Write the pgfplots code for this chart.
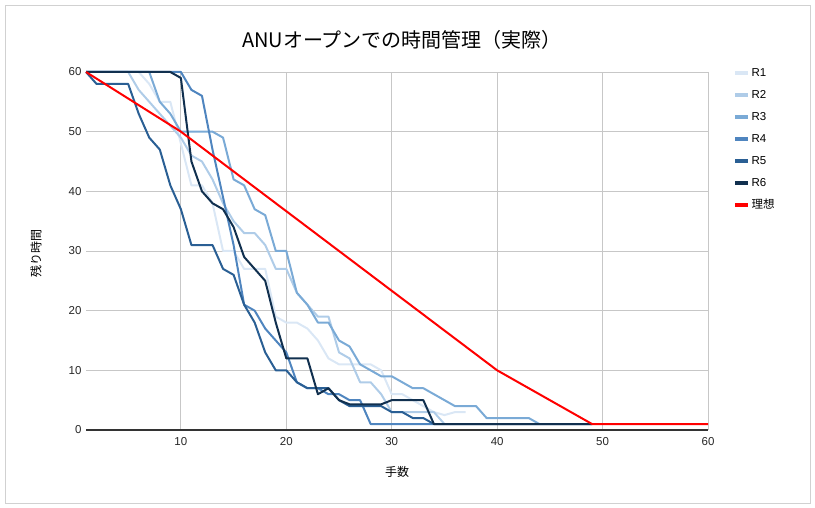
\documentclass[border=0pt]{standalone}
\usepackage{pgfplots}
\pgfplotsset{compat=1.18}
\usepackage{fontspec}
\setmainfont{Liberation Sans}
\newfontfamily\jp{Noto Sans CJK JP}
\definecolor{cR1}{HTML}{DAE7F5}
\definecolor{cR2}{HTML}{AFCCE8}
\definecolor{cR3}{HTML}{7AAAD6}
\definecolor{cR4}{HTML}{4F85BF}
\definecolor{cR5}{HTML}{2A5F94}
\definecolor{cR6}{HTML}{11304F}
\begin{document}
\begin{tikzpicture}[x=1bp,y=1bp]
\path[use as bounding box] (0,0) rectangle (815,508);
\draw[color=black!18, line width=0.8bp] (5,5) rectangle (810,503);
\begin{axis}[
  at={(86bp,78bp)}, anchor=south west,
  scale only axis, width=622bp, height=358bp,
  xmin=1, xmax=60, ymin=0, ymax=60,
  xtick={10,20,...,60}, ytick={0,10,...,60},
  grid=major, major grid style={color=black!22, line width=0.8bp},
  axis x line*=bottom, axis y line*=left,
  y axis line style={draw=none},
  x axis line style={color=black!80, line width=1.2bp, -},
  major tick length=0pt,
  tick label style={font=\fontsize{11.5bp}{13bp}\selectfont, color=black!85},
  /pgf/number format/assume math mode=true,
  xticklabel style={yshift=-4bp},
  yticklabel style={xshift=-1bp},
  clip=false,
  legend cell align=left,
  legend style={at={(1.040,1.018)}, anchor=north west, draw=none, fill=none,
    inner sep=0pt, row sep=8bp,
    font=\fontsize{11.5bp}{14bp}\selectfont,
    nodes={inner sep=1.5bp, text height=9bp, text depth=2bp}},
  legend image code/.code={\draw[#1, line width=4bp, line cap=butt] (0bp,0bp) -- (13bp,0bp);},
  every axis plot/.append style={line width=2bp, line join=round, mark=none},
]
\addplot[color=cR1] coordinates {
(1,60)(2,60)(3,60)(4,60)(5,60)(6,60)(7,58)(8,55)(9,55)(10,48)(11,41)(12,41)(13,38)(14,30)(15,30)(16,27)(17,27)(18,27)(19,19)(20,18)(21,18)(22,17)(23,15)(24,12)(25,11)(26,11)(27,11)(28,11)(29,10)(30,6)(31,6)(32,5)(33,4)(34,3)(35,2.5)(36,3)(37,3)};
\addlegendentry{R1}
\addplot[color=cR2] coordinates {
(1,60)(2,60)(3,60)(4,60)(5,60)(6,57)(7,55)(8,53)(9,51)(10,49)(11,46)(12,45)(13,42)(14,38)(15,35)(16,33)(17,33)(18,31)(19,27)(20,27)(21,23)(22,21)(23,19)(24,19)(25,13)(26,12)(27,8)(28,8)(29,6)(30,3)(31,3)(32,3)(33,3)(34,3)(35,1)};
\addlegendentry{R2}
\addplot[color=cR3] coordinates {
(1,60)(2,60)(3,60)(4,60)(5,60)(6,60)(7,60)(8,55)(9,53)(10,50)(11,50)(12,50)(13,50)(14,49)(15,42)(16,41)(17,37)(18,36)(19,30)(20,30)(21,23)(22,21)(23,18)(24,18)(25,15)(26,14)(27,11)(28,10)(29,9)(30,9)(31,8)(32,7)(33,7)(34,6)(35,5)(36,4)(37,4)(38,4)(39,2)(40,2)(41,2)(42,2)(43,2)(44,1)};
\addlegendentry{R3}
\addplot[color=cR4] coordinates {
(1,60)(2,60)(3,60)(4,60)(5,60)(6,60)(7,60)(8,60)(9,60)(10,60)(11,57)(12,56)(13,47)(14,39)(15,31)(16,21)(17,20)(18,17)(19,15)(20,13)(21,8)(22,7)(23,7)(24,6)(25,6)(26,5)(27,5)(28,1)(29,1)(30,1)(31,1)(32,1)(33,1)(34,1)};
\addlegendentry{R4}
\addplot[color=cR5] coordinates {
(1,60)(2,58)(3,58)(4,58)(5,58)(6,53)(7,49)(8,47)(9,41)(10,37)(11,31)(12,31)(13,31)(14,27)(15,26)(16,21)(17,18)(18,13)(19,10)(20,10)(21,8)(22,7)(23,7)(24,7)(25,5)(26,4)(27,4)(28,4)(29,4)(30,3)(31,3)(32,2)(33,2)(34,1)(40,1)(45,1)(49,1)};
\addlegendentry{R5}
\addplot[color=cR6] coordinates {
(1,60)(2,60)(3,60)(4,60)(5,60)(6,60)(7,60)(8,60)(9,60)(10,59)(11,45)(12,40)(13,38)(14,37)(15,34)(16,29)(17,27)(18,25)(19,18)(20,12)(21,12)(22,12)(23,6)(24,7)(25,5)(26,4.3)(27,4.3)(28,4.3)(29,4.3)(30,5)(31,5)(32,5)(33,5)(34,1)(40,1)(45,1)(49,1)};
\addlegendentry{R6}
\addplot[color=red] coordinates {
(1,60)(10,50)(40,10)(49,1)(60,1)};
\addlegendentry{\jp 理想}
\end{axis}
\node[font=\jp\fontsize{20bp}{24bp}\selectfont] at (402,468) {ANUオープンでの時間管理（実際）};
\node[rotate=90, font=\jp\fontsize{12bp}{14bp}\selectfont] at (36,254) {残り時間};
\node[font=\jp\fontsize{12bp}{14bp}\selectfont] at (397,36) {手数};
\end{tikzpicture}
\end{document}
